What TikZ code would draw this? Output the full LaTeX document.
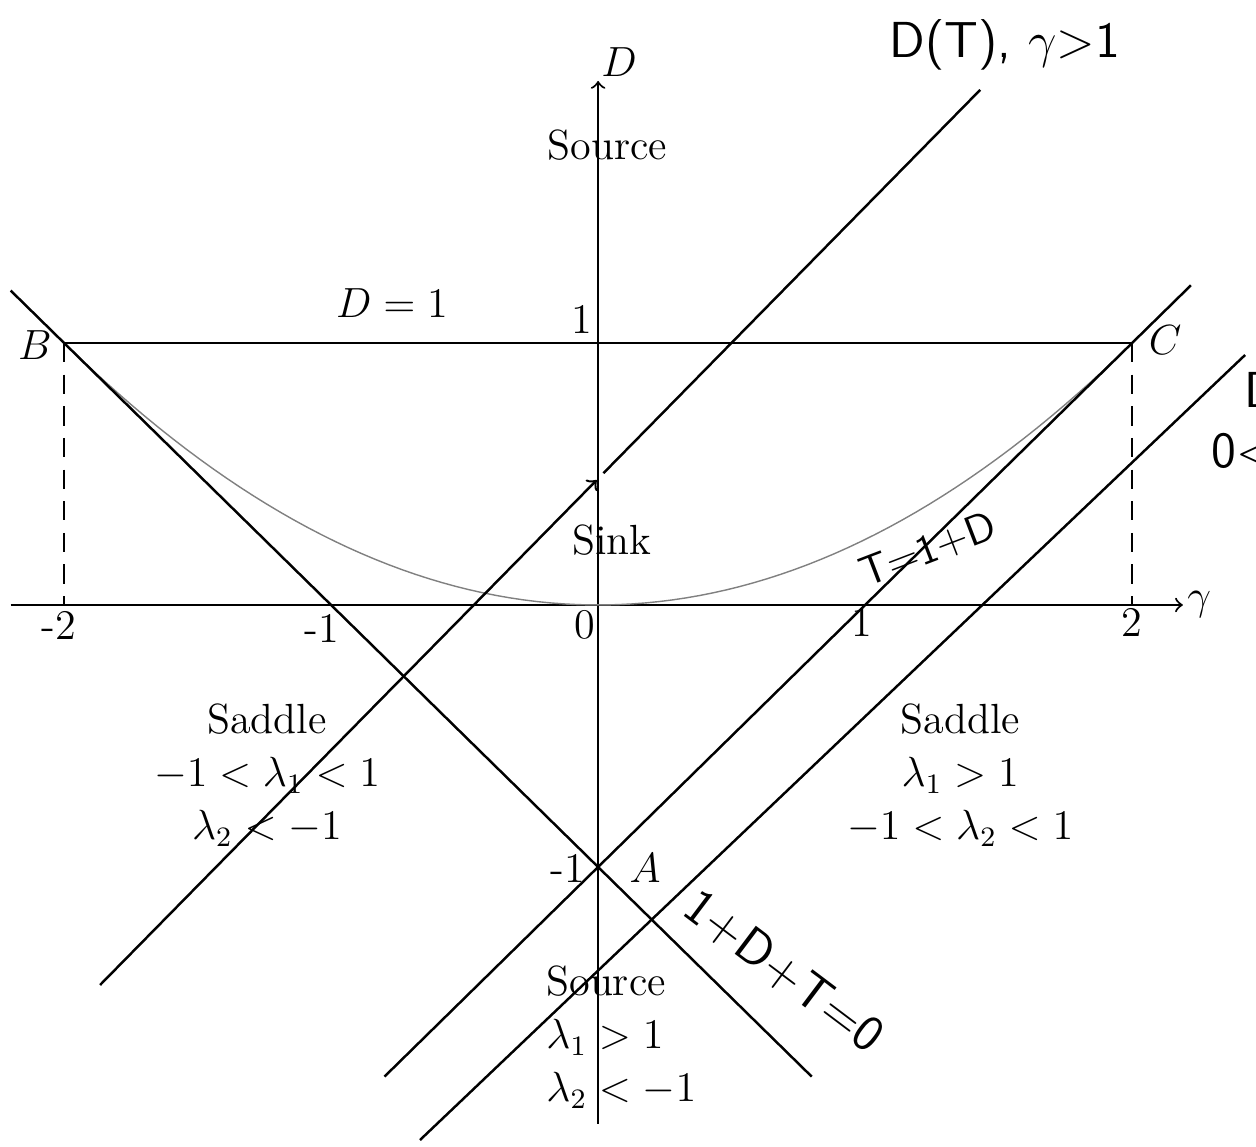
\documentclass[tikz,border=0pt]{standalone}
\begin{document}
\begin{tikzpicture}[x=2.67cm, y=2.62cm, font=\fontsize{12}{15.1}\selectfont,
		curve/.style={line width=0.7pt},
		guide/.style={semithick, dash pattern=on 5.5pt off 3.5pt},
		hand/.style={font=\Large\sffamily}]
		\useasboundingbox (-2.240,-2.065) rectangle (2.464,2.309);
		% axes
		\coordinate (gl) at (-2.2,0);
		\coordinate (gr) at (2.19,0);
		\coordinate (db) at (0,-1.98);
		\coordinate (dt) at (0,2.0);
		\draw[->, semithick] (gl) -- (gr) node (glab) [right, inner sep=1pt] {$\gamma$};
		\draw[->, semithick] (db) -- (dt) node (dlab) [above, xshift=6pt, inner sep=1pt] {$D$};
		% corner points
		\coordinate (A) at (0,-1);
		\coordinate (B) at (-2,1);
		\coordinate (C) at (2,1);
		\coordinate (Bx) at (-2,0);
		\coordinate (Cx) at (2,0);
		\draw[curve] (B) -- (C);
		\draw[guide] (B) -- (Bx);
		\draw[guide] (C) -- (Cx);
		\draw[gray, thin] plot[domain=-2:2, samples=80] (\x, {\x*\x/4});
		% boundary lines
		\coordinate (p1) at (-2.2,1.2);
		\coordinate (p2) at (0.8,-1.8);
		\coordinate (q1) at (-0.8,-1.8);
		\coordinate (q2) at (2.22,1.22);
		\draw[curve] (p1) -- (p2);
		\draw[curve] (q1) -- (q2);
		% D(T) lines
		\coordinate (r1) at (-1.865,-1.450);
		\coordinate (r2) at (-0.005,0.477);
		\coordinate (r3) at (0.02,0.503);
		\coordinate (r4) at (1.431,1.966);
		\draw[->, curve] (r1) -- (r2);
		\draw[curve] (r3) -- (r4);
		\coordinate (s1) at (-0.667,-2.042);
		\coordinate (s2) at (2.423,0.954);
		\draw[curve] (s1) -- (s2);
		% tick labels
		\node (tm2) at (-2.02,-0.08) {-2};
		\node (tm1) at (-1.034,-0.088) {-1};
		\node (t0) at (-0.049,-0.076) {0};
		\node (t1) at (0.989,-0.065) {1};
		\node (t2) at (2.0,-0.065) {2};
		\node (d1) at (-0.06,1.088) {1};
		\node (dm1) at (-0.112,-1.004) {-1};
		\node (Alab) at (0.176,-1.004) {$A$};
		\node (Blab) at (-2.109,0.992) {$B$};
		\node (Clab) at (2.124,1.011) {$C$};
		\node (Done) at (-0.772,1.153) {$D=1$};
		% regions
		\node (srctop) at (0.034,1.756) {Source};
		\node (sink) at (0.052,0.248) {Sink};
		\node (sadl) [align=center] at (-1.24,-0.649) {Saddle\\$-1<\lambda_1<1$\\$\lambda_2<-1$};
		\node (sadr) [align=center] at (1.356,-0.649) {Saddle\\$\lambda_1>1$\\$-1<\lambda_2<1$};
		\node (srcbot) [align=left, anchor=west] at (-0.24,-1.649) {Source\\$\lambda_1>1$\\$\lambda_2<-1$};
		% hand written notes
		\node (hgt) [hand] at (1.524,2.137) {D(T), $\gamma$>1};
		\node (htd) [hand, font=\large\sffamily, rotate=21] at (1.236,0.21) {T=1+D};
		\node (hsum) [hand, rotate=-37] at (0.695,-1.40) {1+D+T=0};
		\node (hlt) [hand, anchor=west] at (2.375,0.802) {D(T),};
		\node (hlt2) [hand, anchor=west] at (2.25,0.573) {0<$\gamma$<1};
	\end{tikzpicture}
\end{document}
